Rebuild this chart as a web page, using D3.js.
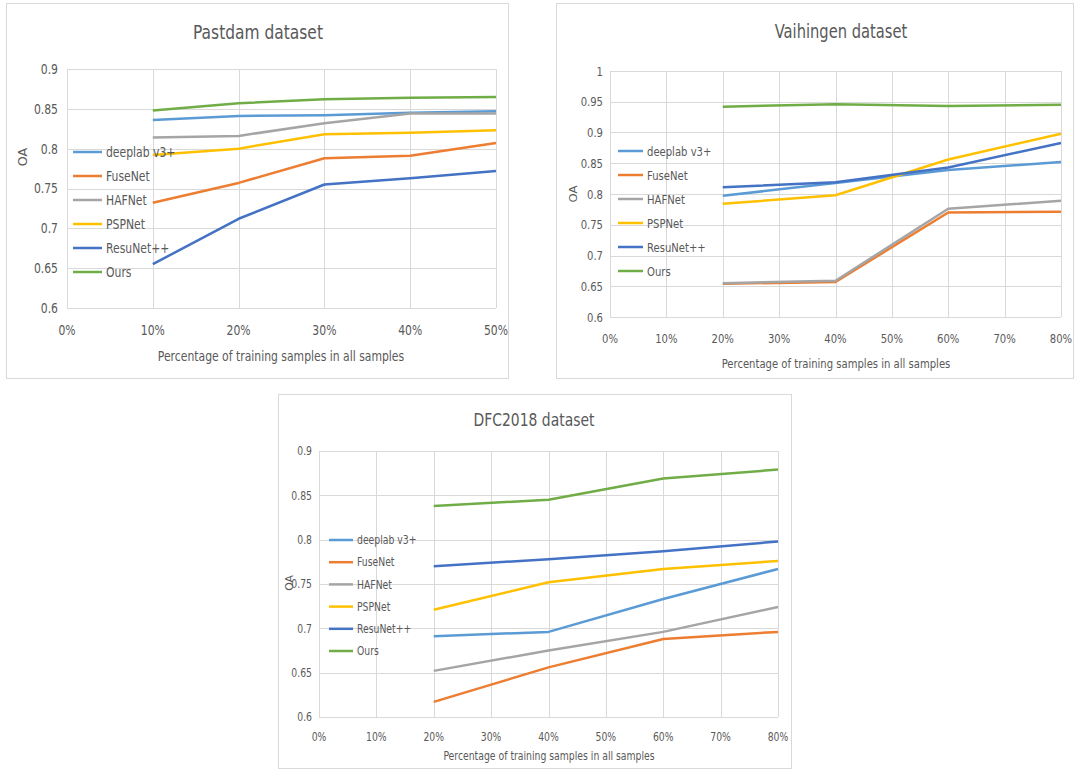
<!DOCTYPE html>
<html>
<head>
<meta charset="utf-8">
<script src="https://cdn.jsdelivr.net/npm/d3@7"></script>
<style>
  body { margin: 0; background: #fff; }
  svg { display: block; font-family: "DejaVu Sans Condensed", "Liberation Sans Narrow", "Open Sans", sans-serif; }
</style>
</head>
<body>
<svg id="chart" width="1075" height="769"></svg>
<script>
// series names + Excel default colours
const seriesNames = ["deeplab v3+", "FuseNet", "HAFNet", "PSPNet", "ResuNet++", "Ours"];
const seriesColors = ["#5B9BD5", "#ED7D31", "#A5A5A5", "#FFC000", "#4472C4", "#70AD47"];

// Pastdam dataset
const pastdamX = [10, 20, 30, 40, 50];
const pastdamXTicks = [0, 10, 20, 30, 40, 50];
const pastdamYTicks = [0.6, 0.65, 0.7, 0.75, 0.8, 0.85, 0.9];
const pastdamDeeplab = [0.836, 0.841, 0.842, 0.845, 0.847];
const pastdamFuseNet = [0.732, 0.757, 0.788, 0.791, 0.807];
const pastdamHAFNet = [0.814, 0.816, 0.832, 0.844, 0.844];
const pastdamPSPNet = [0.792, 0.800, 0.818, 0.820, 0.823];
const pastdamResuNet = [0.655, 0.712, 0.755, 0.763, 0.772];
const pastdamOurs = [0.848, 0.857, 0.862, 0.864, 0.865];

// Vaihingen dataset
const vaihX = [20, 40, 60, 80];
const vaihXTicks = [0, 10, 20, 30, 40, 50, 60, 70, 80];
const vaihYTicks = [0.6, 0.65, 0.7, 0.75, 0.8, 0.85, 0.9, 0.95, 1];
const vaihDeeplab = [0.797, 0.818, 0.839, 0.852];
const vaihFuseNet = [0.654, 0.657, 0.770, 0.771];
const vaihHAFNet = [0.655, 0.659, 0.776, 0.789];
const vaihPSPNet = [0.784, 0.798, 0.856, 0.898];
const vaihResuNet = [0.811, 0.819, 0.843, 0.883];
const vaihOurs = [0.942, 0.946, 0.943, 0.945];

// DFC2018 dataset
const dfcX = [20, 40, 60, 80];
const dfcXTicks = [0, 10, 20, 30, 40, 50, 60, 70, 80];
const dfcYTicks = [0.6, 0.65, 0.7, 0.75, 0.8, 0.85, 0.9];
const dfcDeeplab = [0.691, 0.696, 0.733, 0.767];
const dfcFuseNet = [0.617, 0.656, 0.688, 0.696];
const dfcHAFNet = [0.652, 0.675, 0.696, 0.724];
const dfcPSPNet = [0.721, 0.752, 0.767, 0.776];
const dfcResuNet = [0.770, 0.778, 0.787, 0.798];
const dfcOurs = [0.838, 0.845, 0.869, 0.879];

const xTitle = "Percentage of training samples in all samples";

const svg = d3.select("#chart");
const textColor = "#595959";
const gridColor = "#d9d9d9";
const squeeze = 0.86; // the original picture is squashed sideways

// text helper: narrow the glyphs horizontally like the source image
function addText(g, x, y, str, size, anchor, rotate) {
    return g.append("text")
        .attr("transform", `translate(${x},${y})` + (rotate ? " rotate(-90)" : "") +
              (rotate ? ` scale(1,${squeeze})` : ` scale(${squeeze},1)`))
        .attr("dy", "0.35em")
        .attr("text-anchor", anchor)
        .attr("font-size", size)
        .attr("fill", textColor)
        .text(str);
}

function drawChart(cfg) {
    const g = svg.append("g");

    // outer frame
    g.append("rect")
        .attr("x", cfg.frame[0] + 0.5).attr("y", cfg.frame[1] + 0.5)
        .attr("width", cfg.frame[2] - cfg.frame[0]).attr("height", cfg.frame[3] - cfg.frame[1])
        .attr("fill", "#fff").attr("stroke", gridColor).attr("stroke-width", 1);

    const x = d3.scaleLinear()
        .domain(d3.extent(cfg.xTicks))
        .range([cfg.plot[0], cfg.plot[2]]);
    const y = d3.scaleLinear()
        .domain(d3.extent(cfg.yTicks))
        .range([cfg.plot[3], cfg.plot[1]]);

    // grid
    g.selectAll(".hgrid").data(cfg.yTicks).enter().append("line")
        .attr("x1", cfg.plot[0]).attr("x2", cfg.plot[2])
        .attr("y1", d => Math.round(y(d)) + 0.5).attr("y2", d => Math.round(y(d)) + 0.5)
        .attr("stroke", gridColor).attr("stroke-width", 1);
    g.selectAll(".vgrid").data(cfg.xTicks).enter().append("line")
        .attr("x1", d => Math.round(x(d)) + 0.5).attr("x2", d => Math.round(x(d)) + 0.5)
        .attr("y1", cfg.plot[1]).attr("y2", cfg.plot[3])
        .attr("stroke", gridColor).attr("stroke-width", 1);

    // tick labels
    cfg.yTicks.forEach(d => addText(g, cfg.plot[0] - cfg.yLabGap, y(d), d3.format("")(d), cfg.tickSize, "end"));
    cfg.xTicks.forEach(d => addText(g, x(d), cfg.plot[3] + cfg.xLabGap, d + "%", cfg.tickSize, "middle"));

    // lines
    const line = d3.line().x(d => x(d[0])).y(d => y(d[1]));
    cfg.series.forEach((vals, i) => {
        g.append("path")
            .datum(cfg.xs.map((xv, j) => [xv, vals[j]]))
            .attr("d", line)
            .attr("fill", "none")
            .attr("stroke", seriesColors[i])
            .attr("stroke-width", 2.5)
            .attr("stroke-linejoin", "round");
    });

    // legend (drawn over the plot, like the original)
    seriesNames.forEach((name, i) => {
        const ly = cfg.legend.y + i * cfg.legend.step;
        g.append("line")
            .attr("x1", cfg.legend.x).attr("x2", cfg.legend.x + cfg.legend.len)
            .attr("y1", ly).attr("y2", ly)
            .attr("stroke", seriesColors[i]).attr("stroke-width", 2.5);
        addText(g, cfg.legend.x + cfg.legend.len + 4, ly, name, cfg.legendSize, "start");
    });

    // titles
    addText(g, cfg.title[0], cfg.title[1], cfg.titleText, cfg.titleSize, "middle");
    addText(g, cfg.xTitle[0], cfg.xTitle[1], xTitle, cfg.axisTitleSize, "middle");
    addText(g, cfg.yTitle[0], cfg.yTitle[1], "OA", cfg.axisTitleSize, "middle", true);
}

drawChart({
    frame: [6, 3, 508, 378], plot: [67, 69, 496, 308],
    xs: pastdamX, xTicks: pastdamXTicks, yTicks: pastdamYTicks,
    series: [pastdamDeeplab, pastdamFuseNet, pastdamHAFNet, pastdamPSPNet, pastdamResuNet, pastdamOurs],
    legend: {x: 73, y: 152, step: 24, len: 29},
    title: [258, 32], titleText: "Pastdam dataset", titleSize: 20,
    xTitle: [281, 356], yTitle: [23, 157],
    yLabGap: 9, xLabGap: 22, tickSize: 14, legendSize: 14, axisTitleSize: 14
});

drawChart({
    frame: [556, 3, 1073, 378], plot: [610, 71, 1061, 317],
    xs: vaihX, xTicks: vaihXTicks, yTicks: vaihYTicks,
    series: [vaihDeeplab, vaihFuseNet, vaihHAFNet, vaihPSPNet, vaihResuNet, vaihOurs],
    legend: {x: 618, y: 151, step: 24, len: 25},
    title: [841, 31], titleText: "Vaihingen dataset", titleSize: 19,
    xTitle: [836, 363], yTitle: [573, 194],
    yLabGap: 7, xLabGap: 21, tickSize: 13, legendSize: 13, axisTitleSize: 13
});

drawChart({
    frame: [278, 394, 791, 768], plot: [319, 451, 778, 717],
    xs: dfcX, xTicks: dfcXTicks, yTicks: dfcYTicks,
    series: [dfcDeeplab, dfcFuseNet, dfcHAFNet, dfcPSPNet, dfcResuNet, dfcOurs],
    legend: {x: 329, y: 540, step: 22.2, len: 24},
    title: [534, 420], titleText: "DFC2018 dataset", titleSize: 18,
    xTitle: [549, 756], yTitle: [289, 583],
    yLabGap: 7, xLabGap: 20, tickSize: 12, legendSize: 12, axisTitleSize: 12
});
</script>
</body>
</html>
